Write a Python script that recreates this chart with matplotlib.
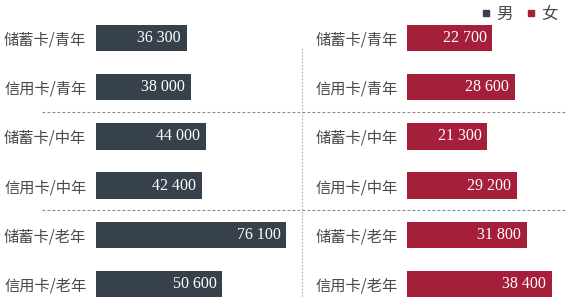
import matplotlib.pyplot as plt
from matplotlib.lines import Line2D

plt.rcParams['font.family'] = ['Noto Sans CJK SC', 'DejaVu Sans']

categories = ['储蓄卡/青年', '信用卡/青年', '储蓄卡/中年', '信用卡/中年', '储蓄卡/老年', '信用卡/老年']
male = [36300, 38000, 44000, 42400, 76100, 50600]
female = [22700, 28600, 21300, 29200, 31800, 38400]

C_MALE = '#37414b'
C_FEMALE = '#a51f3b'
TXT = '#4a4a4a'
W, H = 566, 303

fig = plt.figure(figsize=(W / 100, H / 100), dpi=100)

# pixel-space background axes for separators
bg = fig.add_axes([0, 0, 1, 1], zorder=0)
bg.set_xlim(0, W)
bg.set_ylim(H, 0)
bg.axis('off')

# row geometry (pixels): first bar centre and row pitch
y0, pitch = 38, 49.2
ylim = ((H - y0) / pitch, -y0 / pitch)


def panel(left_px, right_px, scale, values, color, pad):
    ax = fig.add_axes([left_px / W, 0, (right_px - left_px) / W, 1], zorder=1)
    ax.patch.set_alpha(0)
    ax.set_xlim(0, (right_px - left_px) / scale)
    ax.set_ylim(*ylim)
    bars = ax.barh(range(len(values)), values, height=0.54, color=color)
    for b, v in zip(bars, values):
        ax.annotate(f'{v:,}'.replace(',', ' '), (b.get_width(), b.get_y() + b.get_height() / 2),
                    xytext=(-4, 0), textcoords='offset points', ha='right', va='center',
                    color='white', fontsize=11.5, family=['Liberation Serif'])
    ax.set_yticks(range(len(categories)))
    ax.set_yticklabels(categories, fontsize=11, color=TXT)
    ax.tick_params(axis='y', length=0, pad=pad)
    ax.set_xticks([])
    for s in ax.spines.values():
        s.set_visible(False)
    return ax


axl = panel(96, 300, 190 / 76100, male, C_MALE, 7.0)
axr = panel(406.7, W, 145 / 38400, female, C_FEMALE, 6.3)

# dashed separators between age groups
for g in (1.5, 3.5):
    ypx = y0 + g * pitch
    bg.plot([42, W], [ypx, ypx], ls=(0, (2.5, 2)), lw=0.8, color='#888888')
bg.plot([302, 302], [48, 298], ls=(0, (1.5, 1.5)), lw=0.8, color='#aaaaaa')

handles = [Line2D([], [], marker='s', ls='', color=C_MALE, markersize=4.5),
           Line2D([], [], marker='s', ls='', color=C_FEMALE, markersize=4.5)]
fig.legend(handles, ['男', '女'], loc='upper right', bbox_to_anchor=(1.012, 1.03), ncol=2,
           frameon=False, fontsize=12, labelcolor=TXT, handlelength=0.6,
           handletextpad=0.3, columnspacing=0.8)

fig.savefig('out.png', dpi=100)
